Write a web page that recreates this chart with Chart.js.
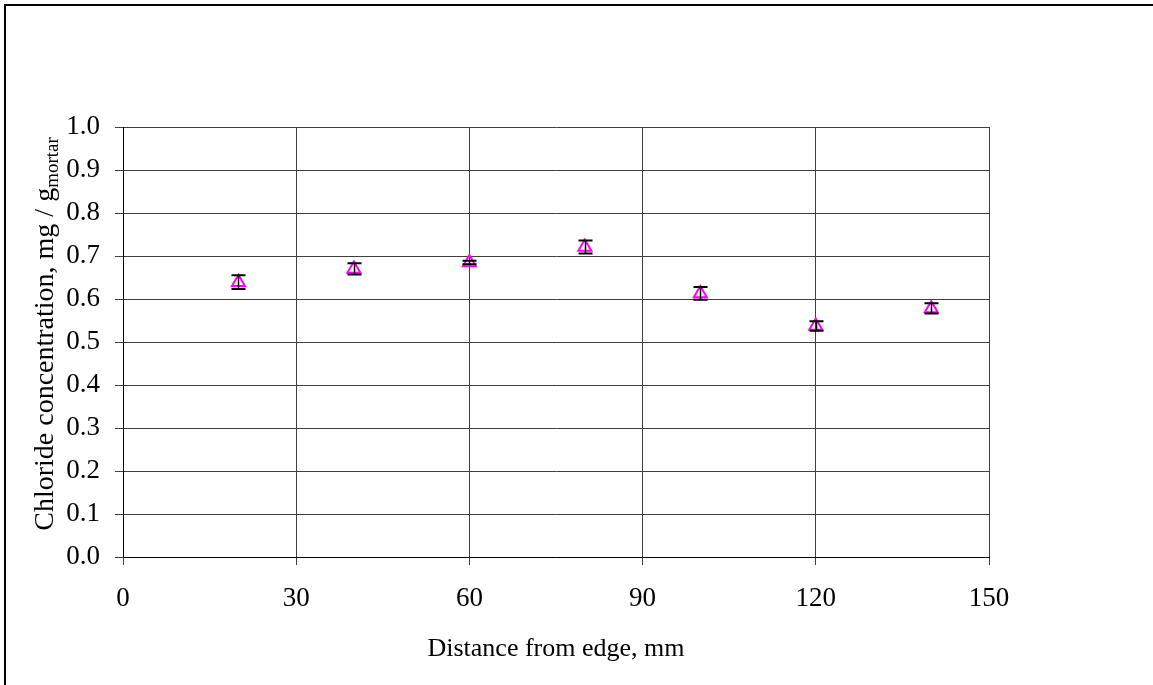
<!DOCTYPE html>
<html>
<head>
<meta charset="utf-8">
<script src="https://cdn.jsdelivr.net/npm/chart.js@4.4.0/dist/chart.umd.min.js"></script>
<style>
  html, body { margin: 0; padding: 0; background: #fff; }
  #wrap { position: relative; width: 1153px; height: 685px; }
</style>
</head>
<body>
<div id="wrap"><canvas id="chlorideChart" width="1153" height="685"></canvas></div>
<script>
// Chloride profile data
const distance = [20, 40, 60, 80, 100, 120, 140];
const chloride = [0.639, 0.670, 0.685, 0.721, 0.613, 0.537, 0.578];
const chlorideErr = [0.016, 0.013, 0.004, 0.015, 0.015, 0.011, 0.012];
const xTicks = [0, 30, 60, 90, 120, 150];
const yTicks = [0.0, 0.1, 0.2, 0.3, 0.4, 0.5, 0.6, 0.7, 0.8, 0.9, 1.0];

const serif = "'Liberation Serif', 'Times New Roman', serif";

// error bars + frame + rotated y title with subscript
const extras = {
    id: 'extras',
    beforeDraw(chart) {
        const ctx = chart.ctx;
        ctx.save();
        ctx.fillStyle = '#000';
        ctx.fillRect(4, 4, chart.width - 4, 2);
        ctx.fillRect(4, 4, 2, chart.height - 4);
        ctx.restore();
    },
    afterDatasetsDraw(chart) {
        const ctx = chart.ctx;
        const xs = chart.scales.x, ys = chart.scales.y;
        ctx.save();
        ctx.strokeStyle = '#000';
        distance.forEach((d, i) => {
            const px = Math.round(xs.getPixelForValue(d)) + 0.5;
            const top = ys.getPixelForValue(chloride[i] + chlorideErr[i]);
            const bot = ys.getPixelForValue(chloride[i] - chlorideErr[i]);
            ctx.lineWidth = 1.5;
            ctx.beginPath();
            ctx.moveTo(px, top);
            ctx.lineTo(px, bot);
            ctx.stroke();
            ctx.lineWidth = 2;
            ctx.beginPath();
            ctx.moveTo(px - 7, top); ctx.lineTo(px + 7, top);
            ctx.moveTo(px - 7, bot); ctx.lineTo(px + 7, bot);
            ctx.stroke();
        });
        ctx.restore();
    },
    afterDraw(chart) {
        const ctx = chart.ctx;
        const main = 'Chloride concentration, mg / g';
        const sub = 'mortar';
        ctx.save();
        ctx.fillStyle = '#000';
        ctx.font = '28px ' + serif;
        const w1 = ctx.measureText(main).width;
        ctx.font = '19px ' + serif;
        const w2 = ctx.measureText(sub).width;
        ctx.translate(53, 334);
        ctx.rotate(-Math.PI / 2);
        ctx.textBaseline = 'alphabetic';
        ctx.textAlign = 'left';
        const start = -(w1 + w2) / 2;
        ctx.font = '28px ' + serif;
        ctx.fillText(main, start, 0);
        ctx.font = '19px ' + serif;
        ctx.fillText(sub, start + w1, 5);
        ctx.restore();
    }
};

new Chart(document.getElementById('chlorideChart'), {
    type: 'scatter',
    data: {
        datasets: [{
            data: distance.map((d, i) => ({ x: d, y: chloride[i] })),
            pointStyle: 'triangle',
            pointRadius: 7.5,
            pointHoverRadius: 7.5,
            pointBorderColor: '#ff00ff',
            pointBackgroundColor: 'rgba(0,0,0,0)',
            pointBorderWidth: 2,
            showLine: false
        }]
    },
    options: {
        responsive: false,
        animation: false,
        layout: { padding: { top: 127, right: 164, left: 0, bottom: 0 } },
        plugins: {
            legend: { display: false },
            tooltip: { enabled: false }
        },
        scales: {
            x: {
                type: 'linear',
                min: 0,
                max: 150,
                afterBuildTicks: (scale) => { scale.ticks = xTicks.map(v => ({ value: v })); },
                afterFit: (scale) => { scale.height = 128; },
                grid: { color: '#404040', lineWidth: 1, tickLength: 8, tickColor: '#404040' },
                border: { color: '#000', width: 1 },
                ticks: {
                    color: '#000',
                    font: { family: serif, size: 27 },
                    padding: 18,
                    maxRotation: 0
                },
                title: {
                    display: true,
                    text: 'Distance from edge, mm',
                    color: '#000',
                    font: { family: serif, size: 26 },
                    padding: { top: 0, bottom: 20 }
                }
            },
            y: {
                min: 0,
                max: 1,
                afterBuildTicks: (scale) => { scale.ticks = yTicks.map(v => ({ value: v })); },
                afterFit: (scale) => { scale.width = 123; },
                grid: { color: '#404040', lineWidth: 1, tickLength: 8, tickColor: '#404040' },
                border: { color: '#000', width: 1 },
                ticks: {
                    color: '#000',
                    font: { family: serif, size: 27 },
                    padding: 15,
                    callback: (v) => Number(v).toFixed(1)
                }
            }
        }
    },
    plugins: [extras]
});
</script>
</body>
</html>
